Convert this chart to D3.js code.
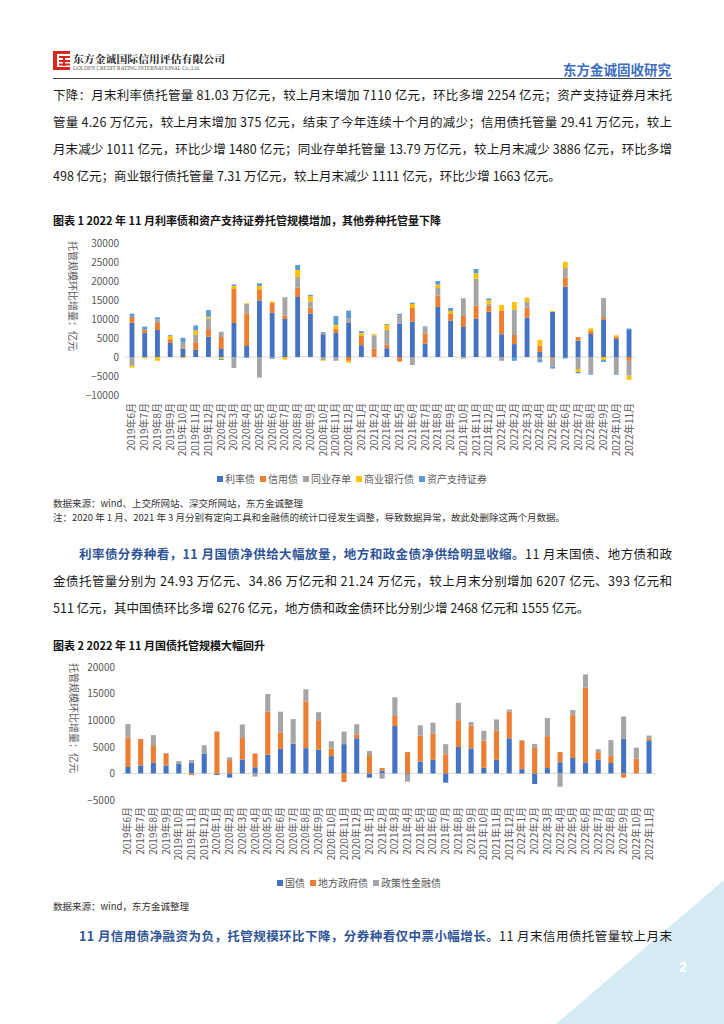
<!DOCTYPE html>
<html><head><meta charset="utf-8">
<script src="https://cdn.jsdelivr.net/npm/d3@7"></script>
<style>
html,body{margin:0;padding:0;background:#fff;}
svg{display:block;}
</style></head>
<body>
<script>
// ---------------- DATA ----------------
const cats1 = ["2019年6月","2019年7月","2019年8月","2019年9月","2019年10月","2019年11月","2019年12月","2020年2月","2020年3月","2020年4月","2020年5月","2020年6月","2020年7月","2020年8月","2020年9月","2020年10月","2020年11月","2020年12月","2021年1月","2021年2月","2021年4月","2021年5月","2021年6月","2021年7月","2021年8月","2021年9月","2021年10月","2021年11月","2021年12月","2022年1月","2022年2月","2022年3月","2022年4月","2022年5月","2022年6月","2022年7月","2022年8月","2022年9月","2022年10月","2022年11月"];
const rateBond = [9000,6300,7100,3700,2200,1900,5350,2100,8950,2900,14900,11600,10000,15800,11400,6000,6300,8950,3100,0,2300,8800,9300,3500,13150,9550,7900,10100,11900,6000,3400,10350,1300,11850,18500,4300,6050,9750,4750,7110];
const creditBond = [1600,900,1850,1000,350,2000,2000,3150,8950,8600,2900,2600,900,2450,1600,200,1100,-1000,2600,2200,900,-1200,3600,2700,3050,1750,2900,3400,1600,6100,2400,2650,1700,-350,2450,950,800,500,600,-1011];
const ncd = [-2300,-100,900,0,1400,2000,2800,1400,-2900,2450,-5400,-300,4800,2800,1600,-800,-1000,1150,0,3500,3950,2100,-2100,1600,1950,0,4650,7100,500,-1000,6750,1500,-800,-2200,2450,-3150,-4300,5250,-4300,-3886];
const bankBond = [-500,-300,-1000,900,-300,1100,450,-500,800,200,900,350,-700,1850,1400,-200,1050,-500,600,300,1300,0,1050,0,900,800,-200,1400,900,1600,1900,1150,1500,250,1650,-800,700,-800,350,-1111];
const absSec = [800,800,600,200,1100,1300,1750,-300,400,-200,700,-200,0,1300,350,350,2300,2100,500,0,250,450,350,250,950,800,-200,1150,500,0,-1000,0,-600,-500,-400,-350,-350,-500,-350,375];
const series1Names = ["利率债","信用债","同业存单","商业银行债","资产支持证券"];
const ticks1 = [-10000,-5000,0,5000,10000,15000,20000,25000,30000];

const cats2 = ["2019年6月","2019年7月","2019年8月","2019年9月","2019年10月","2019年11月","2019年12月","2020年1月","2020年2月","2020年3月","2020年4月","2020年5月","2020年6月","2020年7月","2020年8月","2020年9月","2020年10月","2020年11月","2020年12月","2021年1月","2021年2月","2021年3月","2021年4月","2021年5月","2021年6月","2021年7月","2021年8月","2021年9月","2021年10月","2021年11月","2021年12月","2022年1月","2022年2月","2022年3月","2022年4月","2022年5月","2022年6月","2022年7月","2022年8月","2022年9月","2022年10月","2022年11月"];
const govBond = [1200,1500,1950,1500,1750,2000,3750,-300,-800,2600,1150,3500,4600,5550,4750,4450,3250,5500,6600,-800,500,8900,-250,2200,2550,-1750,4950,4700,1050,2550,6600,800,-2000,1000,2100,2900,2050,2600,1950,6450,0,6207];
const localBond = [5550,4950,3200,2250,0,-300,0,7800,2500,4050,2600,8100,3100,100,8800,5550,1450,-1600,750,3450,500,1900,4000,4900,4900,3600,5050,4300,5150,5550,5000,5300,4800,6000,1900,8050,14100,1400,1300,-800,2800,393];
const policyBond = [2500,0,2050,100,550,500,1550,100,500,2550,-600,3300,3900,4550,2250,1500,1350,2350,1900,750,-1000,3500,-1300,1950,2100,1900,3250,650,1800,2050,400,150,750,3400,-2500,950,2450,550,3000,4250,2050,511];
const series2Names = ["国债","地方政府债","政策性金融债"];
const ticks2 = [-5000,0,5000,10000,15000,20000];

// ---------------- STYLE ----------------
const colors1 = ["#4472C4","#ED7D31","#A5A5A5","#FFC000","#5B9BD5"];
const colors2 = ["#4472C4","#ED7D31","#A5A5A5"];
const CJK = "'Noto Sans CJK SC','Noto Sans',sans-serif";
const BLUE = "#2F5597";

const svg = d3.select("body").append("svg").attr("width",724).attr("height",1024);

// page corner (drawn first, text goes over it)
svg.append("path").attr("d","M724,880 L724,1024 L556,1024 Z").attr("fill","#D5EBF3");
svg.append("text").attr("x",683).attr("y",972).attr("text-anchor","middle").attr("font-family","'Liberation Sans',Arial,sans-serif")
  .attr("font-size",14).attr("font-weight","bold").attr("fill","#fff").text("2");

// ---------------- HEADER ----------------
const logo = svg.append("g").attr("fill","#d7261e");
logo.append("rect").attr("x",53).attr("y",51).attr("width",4).attr("height",19);
logo.append("rect").attr("x",53).attr("y",51).attr("width",17).attr("height",3);
logo.append("rect").attr("x",53).attr("y",67).attr("width",17).attr("height",3);
logo.append("rect").attr("x",59).attr("y",56).attr("width",11).attr("height",2);
logo.append("rect").attr("x",59).attr("y",60).attr("width",11).attr("height",2);
logo.append("rect").attr("x",59).attr("y",63.5).attr("width",11).attr("height",2);
logo.append("rect").attr("x",63).attr("y",56).attr("width",2).attr("height",10);
svg.append("text").attr("x",73).attr("y",62.5).attr("font-family","'Noto Serif CJK SC','Noto Sans CJK SC',serif")
  .attr("font-size",10.6).attr("font-weight","bold").attr("fill","#222")
  .attr("textLength",152).attr("lengthAdjust","spacingAndGlyphs").text("东方金诚国际信用评估有限公司");
svg.append("text").attr("x",73).attr("y",69.5).attr("font-family","'Liberation Serif',serif")
  .attr("font-size",5.6).attr("fill","#555").attr("textLength",127).attr("lengthAdjust","spacingAndGlyphs")
  .text("GOLDEN CREDIT RATING INTERNATIONAL Co.,Ltd.");
svg.append("text").attr("x",671).attr("y",75).attr("text-anchor","end").attr("font-family",CJK)
  .attr("font-size",13.5).attr("font-weight","bold").attr("fill","#3D6EC1").text("东方金诚固收研究");
svg.append("line").attr("x1",53).attr("x2",672).attr("y1",78.5).attr("y2",78.5).attr("stroke","#444").attr("stroke-width",1.2);

// ---------------- TEXT helper ----------------
function textLine(x, y, parts, len, size){
  const t = svg.append("text").attr("x",x).attr("y",y).attr("font-family",CJK).attr("font-size",size||12.5);
  parts.forEach(p=>{
    t.append("tspan").attr("fill",p[1]||"#1a1a1a").attr("font-weight",p[2]||"normal").text(p[0]);
  });
  if(len){ t.attr("textLength",len).attr("lengthAdjust","spacing"); }
  return t;
}

textLine(53,99.5,[["下降：月末利率债托管量 81.03 万亿元，较上月末增加 7110 亿元，环比多增 2254 亿元；资产支持证券月末托"]],619);
textLine(53,126.5,[["管量 4.26 万亿元，较上月末增加 375 亿元，结束了今年连续十个月的减少；信用债托管量 29.41 万亿元，较上"]],619);
textLine(53,154,[["月末减少 1011 亿元，环比少增 1480 亿元；同业存单托管量 13.79 万亿元，较上月末减少 3886 亿元，环比多增"]],619);
textLine(53,181,[["498 亿元；商业银行债托管量 7.31 万亿元，较上月末减少 1111 亿元，环比少增 1663 亿元。"]],null);

// chart titles
svg.append("text").attr("x",53).attr("y",225).attr("font-family",CJK).attr("font-size",11).attr("font-weight","bold")
  .attr("fill","#111").text("图表 1  2022 年 11 月利率债和资产支持证券托管规模增加，其他券种托管量下降");
svg.append("text").attr("x",53).attr("y",650).attr("font-family",CJK).attr("font-size",11).attr("font-weight","bold")
  .attr("fill","#111").text("图表 2  2022 年 11 月国债托管规模大幅回升");

// ---------------- CHART builder ----------------
function buildChart(cfg){
  const table = cfg.cats.map((c,i)=>{
    const o = {cat:c};
    cfg.names.forEach((n,k)=>{ o[n] = cfg.values[k][i]; });
    return o;
  });
  const x = d3.scaleBand().domain(cfg.cats).range(cfg.xRange).paddingInner(cfg.pad).paddingOuter(cfg.pad/2);
  const y = d3.scaleLinear().domain(cfg.yDomain).range(cfg.yRange);
  const g = svg.append("g");
  g.append("line").attr("x1",cfg.xRange[0]).attr("x2",cfg.xRange[1]).attr("y1",y(0)).attr("y2",y(0))
    .attr("stroke","#d9d9d9").attr("stroke-width",1);
  const stack = d3.stack().keys(cfg.names).offset(d3.stackOffsetDiverging)(table);
  g.selectAll("g.s").data(stack).join("g").attr("fill",(d,i)=>cfg.colors[i])
    .selectAll("rect").data(d=>d).join("rect")
    .attr("x",d=>x(d.data.cat)).attr("width",x.bandwidth())
    .attr("y",d=>y(Math.max(d[0],d[1]))).attr("height",d=>Math.abs(y(d[0])-y(d[1])));
  const ya = g.append("g").attr("transform",`translate(${cfg.yLabelX},0)`)
    .call(d3.axisLeft(y).tickValues(cfg.ticks).tickSize(0).tickPadding(0).tickFormat(d3.format("d")));
  ya.select(".domain").remove();
  ya.selectAll("text").attr("font-family",CJK).attr("font-size",10).attr("fill","#595959");
  g.append("g").selectAll("text").data(cfg.cats).join("text")
    .attr("transform",d=>`translate(${x(d)+x.bandwidth()/2},${cfg.xLabelY}) rotate(-90)`)
    .attr("text-anchor","end").attr("dy","0.35em").attr("font-family",CJK).attr("font-size",10)
    .attr("fill","#595959").text(d=>d);
  g.append("text").attr("transform",`translate(${cfg.titleX},${cfg.titleY}) rotate(90)`)
    .attr("text-anchor","middle").attr("dy","0.35em").attr("font-family",CJK).attr("font-size",10)
    .attr("fill","#595959").text("托管规模环比增量：亿元");
  const lg = g.append("g");
  let cx = 0;
  cfg.names.forEach((n,i)=>{
    const it = lg.append("g").attr("transform",`translate(${cx},0)`);
    it.append("rect").attr("x",0).attr("y",-3).attr("width",6).attr("height",6).attr("fill",cfg.colors[i]);
    const t = it.append("text").attr("x",8).attr("dy","0.35em").attr("font-family",CJK).attr("font-size",10)
      .attr("fill","#595959").text(n);
    cx += 8 + t.node().getComputedTextLength() + 5;
  });
  lg.attr("transform",`translate(${cfg.legendCx - (cx-5)/2},${cfg.legendY})`);
}

buildChart({
  cats:cats1, names:series1Names, values:[rateBond,creditBond,ncd,bankBond,absSec], colors:colors1,
  xRange:[125.6,635.4], pad:0.62, yDomain:[-10000,30000], yRange:[395,243], ticks:ticks1,
  yLabelX:119, xLabelY:403, titleX:72, titleY:296, legendCx:352, legendY:479
});
svg.append("text").attr("x",53).attr("y",507).attr("font-family",CJK).attr("font-size",9.5).attr("fill","#333")
  .text("数据来源：wind、上交所网站、深交所网站，东方金诚整理");
svg.append("text").attr("x",53).attr("y",521).attr("font-family",CJK).attr("font-size",9.5).attr("fill","#333")
  .text("注：2020 年 1 月、2021 年 3 月分别有定向工具和金融债的统计口径发生调整，导致数据异常，故此处删除这两个月数据。");

textLine(79,559,[["利率债分券种看，11 月国债净供给大幅放量，地方和政金债净供给明显收缩。",BLUE,"bold"],["11 月末国债、地方债和政"]],593);
textLine(53,586,[["金债托管量分别为 24.93 万亿元、34.86 万亿元和 21.24 万亿元，较上月末分别增加 6207 亿元、393 亿元和"]],619);
textLine(53,613,[["511 亿元，其中国债环比多增 6276 亿元，地方债和政金债环比分别少增 2468 亿元和 1555 亿元。"]],null);

buildChart({
  cats:cats2, names:series2Names, values:[govBond,localBond,policyBond], colors:colors2,
  xRange:[121.6,655.4], pad:0.6, yDomain:[-5000,20000], yRange:[800,667], ticks:ticks2,
  yLabelX:115, xLabelY:807, titleX:73, titleY:718, legendCx:359, legendY:883
});
svg.append("text").attr("x",53).attr("y",910).attr("font-family",CJK).attr("font-size",9.5).attr("fill","#333")
  .text("数据来源：wind，东方金诚整理");

textLine(79,941,[["11 月信用债净融资为负，托管规模环比下降，分券种看仅中票小幅增长。",BLUE,"bold"],["11 月末信用债托管量较上月末"]],593);
</script>
</body></html>
